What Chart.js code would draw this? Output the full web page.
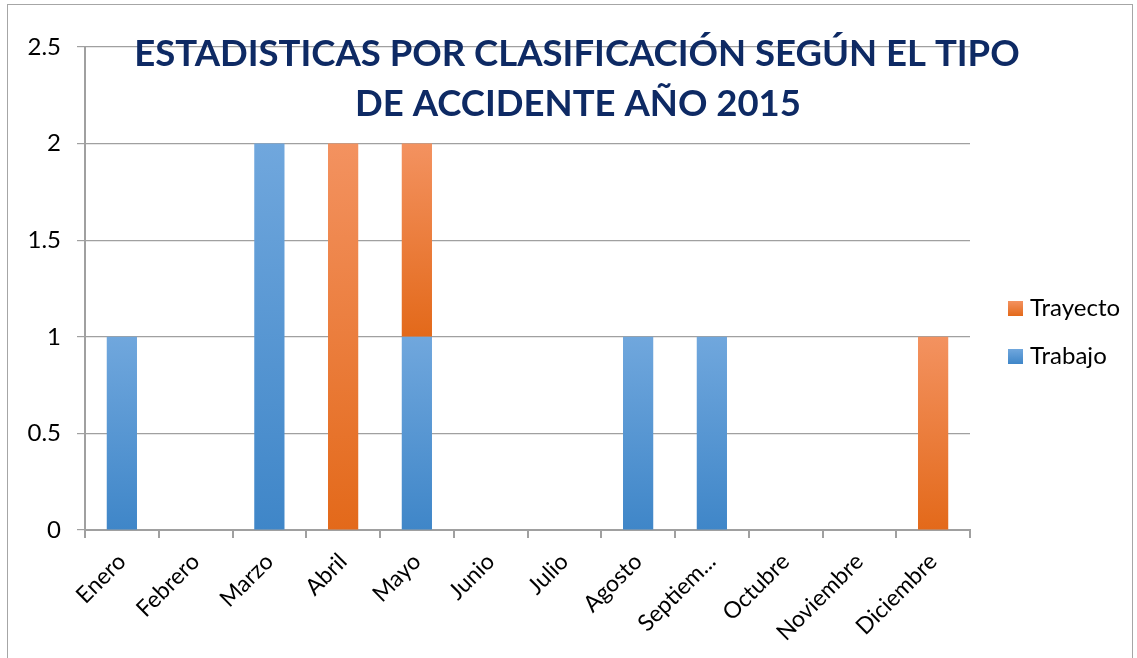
<!DOCTYPE html>
<html>
<head>
<meta charset="utf-8">
<script src="https://cdn.jsdelivr.net/npm/chart.js@4/dist/chart.umd.min.js"></script>
<style>
  body { margin: 0; background: #fff; }
  #wrap { position: relative; width: 1137px; height: 658px; }
  #frame { position: absolute; left: 7px; top: 4px; width: 1124px; height: 660px; border: 1px solid #a6a6a6; pointer-events: none; }
  #legend { position: absolute; left: 1008px; top: 295px; font-family: Lato, "Open Sans", sans-serif; font-size: 24px; color: #000; }
  #legend div { height: 24px; line-height: 24px; margin-bottom: 24px; white-space: nowrap; }
  #legend span { display: inline-block; width: 15px; height: 15px; margin-right: 7px; vertical-align: 0px; }
</style>
</head>
<body>
<div id="wrap">
  <canvas id="canvas" width="1137" height="658"></canvas>
  <div id="legend"></div>
  <div id="frame"></div>
</div>
<script>
var months = ['Enero', 'Febrero', 'Marzo', 'Abril', 'Mayo', 'Junio', 'Julio', 'Agosto', 'Septiem...', 'Octubre', 'Noviembre', 'Diciembre'];
var trabajo = [1, 0, 2, 0, 1, 0, 0, 1, 1, 0, 0, 0];
var trayecto = [0, 0, 0, 2, 1, 0, 0, 0, 0, 0, 0, 1];
var titleLines = ['ESTADISTICAS POR CLASIFICACIÓN SEGÚN EL TIPO', 'DE ACCIDENTE AÑO 2015'];

var fontName = 'Lato, "Open Sans", sans-serif';
var blue = ['#70a7dd', '#3f86c8'];
var orange = ['#f39260', '#e3691a'];

// vertical gradient per bar segment, lighter on top
function barFill(cols, under) {
	return function(c) {
		if (c.dataIndex === undefined) return cols[1];
		var y = c.chart.scales.y;
		if (!y) return cols[1];
		var base = under ? under[c.dataIndex] : 0;
		var top = base + c.dataset.data[c.dataIndex];
		var y0 = y.getPixelForValue(top), y1 = y.getPixelForValue(base);
		if (!isFinite(y0) || !isFinite(y1) || y0 === y1) return cols[1];
		var g = c.chart.ctx.createLinearGradient(0, y0, 0, y1);
		g.addColorStop(0, cols[0]);
		g.addColorStop(1, cols[1]);
		return g;
	};
}

var titlePlugin = {
	id: 'overTitle',
	afterDraw: function(chart) {
		var ctx = chart.ctx;
		ctx.save();
		ctx.fillStyle = '#0e2a64';
		ctx.font = 'bold 36.5px ' + fontName;
		ctx.textAlign = 'center';
		ctx.textBaseline = 'middle';
		ctx.fillText(titleLines[0], 577, 54);
		ctx.fillText(titleLines[1], 578, 104);
		ctx.restore();
	}
};

var ctx = document.getElementById('canvas').getContext('2d');
var chart = new Chart(ctx, {
	type: 'bar',
	data: {
		labels: months,
		datasets: [{
			label: 'Trabajo',
			data: trabajo,
			backgroundColor: barFill(blue, null)
		}, {
			label: 'Trayecto',
			data: trayecto,
			backgroundColor: barFill(orange, trabajo)
		}]
	},
	options: {
		responsive: false,
		animation: false,
		events: [],
		datasets: { bar: { categoryPercentage: 1, barPercentage: 0.41 } },
		layout: { padding: { left: 10, top: 47, right: 167, bottom: 0 } },
		scales: {
			x: {
				stacked: true,
				grid: { offset: true, drawOnChartArea: false, drawTicks: true, tickLength: 8, color: '#a0a0a0', lineWidth: 2 },
				border: { color: '#a0a0a0', width: 2 },
				ticks: { color: '#000', font: { family: fontName, size: 23 }, minRotation: 45, maxRotation: 45, padding: 10, autoSkip: false },
				afterFit: function(s) { s.height = 128; }
			},
			y: {
				stacked: true,
				min: 0, max: 2.5,
				grid: { color: '#a0a0a0', lineWidth: 1.2, tickLength: 8 },
				border: { color: '#a0a0a0', width: 2 },
				ticks: {
					stepSize: 0.5, color: '#000', font: { family: fontName, size: 24 }, padding: 16,
					callback: function(v) { return String(v); }
				},
				afterFit: function(s) { s.width = 75; }
			}
		},
		plugins: {
			title: { display: false },
			tooltip: { enabled: false },
			legend: { display: false }
		}
	},
	plugins: [titlePlugin]
});

// legend, Trayecto listed first as in the original
var legendEl = document.getElementById('legend');
chart.data.datasets.slice().reverse().forEach(function(ds) {
	var cols = ds.label === 'Trabajo' ? blue : orange;
	var row = document.createElement('div');
	var box = document.createElement('span');
	box.style.background = 'linear-gradient(' + cols[0] + ',' + cols[1] + ')';
	row.appendChild(box);
	row.appendChild(document.createTextNode(ds.label));
	legendEl.appendChild(row);
});
</script>
</body>
</html>
